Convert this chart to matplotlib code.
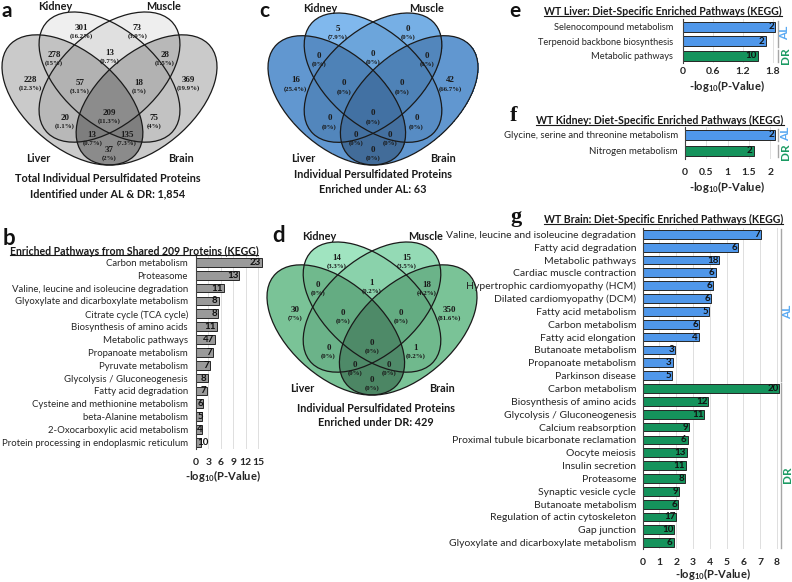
import numpy as np
import matplotlib
matplotlib.use("Agg")
import matplotlib.pyplot as plt
from matplotlib.patches import Ellipse
from matplotlib.colors import LinearSegmentedColormap
from matplotlib.lines import Line2D

W, H = 792, 582
SANS = ["Lato", "DejaVu Sans"]
SERIF = ["Liberation Serif", "DejaVu Serif"]
plt.rcParams["font.family"] = SANS
plt.rcParams["mathtext.default"] = "regular"

# ---------------- Venn data (regions of Liver / Kidney / Muscle / Brain) ----------------
venn_regions = ["L", "K", "M", "B", "LK", "KM", "MB", "LM", "KB", "LB",
                "LKM", "KMB", "LMB", "LKB", "LKMB"]
venn_a_counts = [228, 301, 73, 369, 278, 13, 28, 20, 75, 37, 57, 18, 13, 135, 209]
venn_c_counts = [16, 5, 0, 42, 0, 0, 0, 0, 0, 0, 0, 0, 0, 0, 0]
venn_d_counts = [30, 14, 15, 350, 0, 1, 18, 0, 1, 0, 0, 0, 0, 0, 0]
tissues = ["Liver", "Kidney", "Muscle", "Brain"]

# ---------------- bar panel data ----------------
b_labels = ["Carbon metabolism", "Proteasome", "Valine, leucine and isoleucine degradation",
            "Glyoxylate and dicarboxylate metabolism", "Citrate cycle (TCA cycle)",
            "Biosynthesis of amino acids", "Metabolic pathways", "Propanoate metabolism",
            "Pyruvate metabolism", "Glycolysis / Gluconeogenesis", "Fatty acid degradation",
            "Cysteine and methionine metabolism", "beta-Alanine metabolism",
            "2-Oxocarboxylic acid metabolism", "Protein processing in endoplasmic reticulum"]
b_values = [15.9, 10.5, 6.8, 5.5, 5.3, 5.0, 4.6, 4.2, 3.5, 2.8, 2.7, 1.8, 1.5, 1.45, 1.1]
b_counts = [23, 13, 11, 8, 8, 11, 47, 7, 7, 8, 7, 6, 5, 4, 10]

e_labels = ["Selenocompound metabolism", "Terpenoid backbone biosynthesis", "Metabolic pathways"]
e_values = [1.84, 1.65, 1.49]
e_counts = [2, 2, 10]
e_diet = ["AL", "AL", "DR"]

f_labels = ["Glycine, serine and threonine metabolism", "Nitrogen metabolism"]
f_values = [2.12, 1.61]
f_counts = [2, 2]
f_diet = ["AL", "DR"]

g_labels = ["Valine, leucine and isoleucine degradation", "Fatty acid degradation",
            "Metabolic pathways", "Cardiac muscle contraction",
            "Hypertrophic cardiomyopathy (HCM)", "Dilated cardiomyopathy (DCM)",
            "Fatty acid metabolism", "Carbon metabolism", "Fatty acid elongation",
            "Butanoate metabolism", "Propanoate metabolism", "Parkinson disease",
            "Carbon metabolism", "Biosynthesis of amino acids", "Glycolysis / Gluconeogenesis",
            "Calcium reabsorption", "Proximal tubule bicarbonate reclamation", "Oocyte meiosis",
            "Insulin secretion", "Proteasome", "Synaptic vesicle cycle", "Butanoate metabolism",
            "Regulation of actin cytoskeleton", "Gap junction",
            "Glyoxylate and dicarboxylate metabolism"]
g_values = [7.06, 5.67, 4.57, 4.35, 4.19, 4.06, 3.98, 3.38, 3.34, 1.95, 1.79, 1.75,
            8.15, 3.92, 3.68, 2.78, 2.68, 2.64, 2.58, 2.52, 2.19, 2.13, 2.0, 1.89, 1.85]
g_counts = [7, 6, 18, 6, 6, 6, 5, 6, 4, 3, 3, 5,
            20, 12, 11, 9, 6, 13, 11, 8, 9, 6, 17, 10, 6]
g_diet = ["AL"] * 12 + ["DR"] * 13

DIET_COLOR = {"AL": "#4f97ea", "DR": "#15935c"}
DIET_TEXT = {"AL": "#5aa9f2", "DR": "#1a9a62"}

fig = plt.figure(figsize=(W / 100, H / 100), dpi=100)


def px_axes(x0, y0, x1, y1):
    return fig.add_axes([x0 / W, 1 - y1 / H, (x1 - x0) / W, (y1 - y0) / H])


def ftext(x, y, s, **kw):
    return fig.text(x / W, 1 - y / H, s, **kw)


# ---------------- Venn helper ----------------
CENTERS = [(0.35, 0.47), (0.50, 0.57), (0.50, 0.57), (0.65, 0.47)]
ANGLES = [-45, -45, 45, 45]
WEIGHTS = [1.0, 0.25, 0.3, 1.0]
SEMI_A, SEMI_B = 0.35, 0.20
XL, YL = (0.065, 0.935), (0.185, 0.855)
LABEL_POS = {"L": (0.18, 0.54), "K": (0.355, 0.767), "M": (0.645, 0.767), "B": (0.82, 0.54),
             "LK": (0.275, 0.649), "KM": (0.5, 0.658), "MB": (0.725, 0.649),
             "LM": (0.32, 0.373), "KB": (0.68, 0.373), "LB": (0.5, 0.233),
             "LKM": (0.38, 0.527), "KMB": (0.62, 0.527), "LMB": (0.43, 0.30),
             "LKB": (0.57, 0.30), "LKMB": (0.5, 0.395)}
NAME_POS = [(0.21, 0.214), (0.28, 0.877), (0.72, 0.877), (0.79, 0.214)]


def venn(box, counts, anchors, pos_override=None):
    ax = px_axes(*box)
    xs = np.linspace(*XL, 700)
    ys = np.linspace(*YL, 540)
    X, Y = np.meshgrid(xs, ys)
    depth = np.zeros_like(X)
    cover = np.zeros(X.shape, bool)
    for (cx, cy), ang, w in zip(CENTERS, ANGLES, WEIGHTS):
        t = np.deg2rad(ang)
        dx, dy = X - cx, Y - cy
        u = dx * np.cos(t) + dy * np.sin(t)
        v = -dx * np.sin(t) + dy * np.cos(t)
        inside = (u / SEMI_A) ** 2 + (v / SEMI_B) ** 2 <= 1
        depth += w * inside
        cover |= inside
    dmax = sum(WEIGHTS)
    cmap = LinearSegmentedColormap.from_list("venn", [(d / dmax, c) for d, c in anchors], N=512)
    rgba = cmap(depth / dmax)
    rgba[~cover, 3] = 0
    ax.imshow(rgba, extent=(*XL, *YL), origin="lower", aspect="auto",
              interpolation="nearest", zorder=1)
    for (cx, cy), ang in zip(CENTERS, ANGLES):
        ax.add_patch(Ellipse((cx, cy), 2 * SEMI_A, 2 * SEMI_B, angle=ang, fill=False,
                             ec="#1a1a1a", lw=0.9, zorder=2, clip_on=False))
    ax.set_xlim(*XL)
    ax.set_ylim(*YL)
    ax.axis("off")
    total = sum(counts)
    pos = dict(LABEL_POS)
    if pos_override:
        pos.update(pos_override)
    for key, n in zip(venn_regions, counts):
        ux, uy = pos[key]
        pct = round(n / total * 100, 1)
        ax.text(ux, uy + 0.018, str(n), ha="center", va="center", fontsize=6.4,
                fontweight="bold", family=SERIF, color="#1a1a1a", zorder=3)
        ax.text(ux, uy - 0.019, f"({pct:g}%)", ha="center", va="center", fontsize=4.9,
                fontweight="bold", family=SERIF, color="#1a1a1a", zorder=3)
    for name, (ux, uy) in zip(tissues, NAME_POS):
        ax.text(ux, uy, name, ha="center", va="center", fontsize=7.8, fontweight="bold",
                color="#1a1a1a", clip_on=False)
    return total


gray = [(0, "#ffffff"), (0.25, "#efefef"), (0.3, "#eeeeee"), (0.55, "#e0e0e0"),
        (1.0, "#cacaca"), (1.25, "#c2c2c2"), (1.3, "#b9b9b9"), (1.55, "#b3b3b3"),
        (2.0, "#8c8c8c"), (2.25, "#808080"), (2.3, "#7e7e7e"), (2.55, "#8c8c8c")]
blue = [(0, "#ffffff"), (0.25, "#80b8ed"), (0.3, "#76afe5"), (0.55, "#6ca5db"),
        (1.0, "#6197d0"), (1.25, "#578cc4"), (1.3, "#5387bd"), (1.55, "#4f83b8"),
        (2.0, "#426c99"), (2.25, "#4470a0"), (2.3, "#4470a0"), (2.55, "#4271a3")]
green = [(0, "#ffffff"), (0.25, "#a0e4c0"), (0.3, "#94dab5"), (0.55, "#8ad2ab"),
         (1.0, "#7ac397"), (1.25, "#70b98d"), (1.3, "#6cb48a"), (1.55, "#65ad83"),
         (2.0, "#4c8664"), (2.25, "#4f8a69"), (2.3, "#4f8a69"), (2.55, "#4e8a68")]

tot_a = venn((2, 12, 217, 165), venn_a_counts, gray,
             {"K": (0.387, 0.767), "M": (0.613, 0.767)})
tot_c = venn((268, 13, 478, 165), venn_c_counts, blue)
tot_d = venn((267, 242, 477, 395), venn_d_counts, green)

vt = dict(ha="center", va="center", fontsize=7.8, fontweight="bold", color="#1a1a1a")
ftext(107.5, 178, "Total Individual Persulfidated Proteins", **vt)
ftext(107.5, 194, f"Identified under AL & DR: {tot_a:,}", **vt)
ftext(372.5, 175, "Individual Persulfidated Proteins", **vt)
ftext(372.5, 190, f"Enriched under AL: {tot_c}", **vt)
ftext(376, 408, "Individual Persulfidated Proteins", **vt)
ftext(376, 423, f"Enriched under DR: {tot_d}", **vt)


# ---------------- bar helper ----------------
def bar_panel(box, labels, values, counts, colors, xmax, ticks, ticklabels,
              ypad, xpad, fs, diet=None):
    x0, y0, x1, y1 = box
    ax = px_axes(x0, y0, x1, y1)
    y = np.arange(len(labels))
    ax.barh(y, values, height=0.68, color=colors, edgecolor="#262626", linewidth=0.7, zorder=2)
    ax.set_xlim(0, xmax)
    ax.set_ylim(len(labels) - 0.5, -0.5)
    ax.set_yticks(y, labels, fontsize=fs, color="#262626")
    ax.set_xticks(ticks, ticklabels, fontsize=7.5, fontweight="bold", color="#262626")
    ax.tick_params(axis="y", length=0, pad=ypad)
    ax.tick_params(axis="x", length=0, pad=xpad)
    ax.grid(axis="x", color="#d9d9d9", lw=0.6, zorder=0)
    ax.set_axisbelow(True)
    for s in ["top", "right", "bottom"]:
        ax.spines[s].set_visible(False)
    ax.spines["left"].set_color("#404040")
    ax.spines["left"].set_linewidth(0.8)
    ppu = (x1 - x0) / xmax
    for yi, v, c in zip(y, values, counts):
        s = str(c)
        right = max(v - 1.0 / ppu, (len(s) * 5.4 + 1.5) / ppu)
        ax.text(right, yi, s, ha="right", va="center", fontsize=7, fontweight="bold",
                color="#111111", zorder=3)
    if diet is not None:
        for grp in ["AL", "DR"]:
            idx = [i for i, d in enumerate(diet) if d == grp]
            ax.plot([1.0 + 1 / (x1 - x0)] * 2, [idx[0] - 0.4, idx[-1] + 0.4], color="#a6a6a6",
                    lw=1.0, transform=ax.get_yaxis_transform(), clip_on=False)
    return ax


xlab = r"-log$_{10}$(P-Value)"
xl = dict(ha="center", va="center", fontsize=8, fontweight="bold", color="#262626")

bar_panel((196, 255.9, 262.9, 448.8), b_labels, b_values, b_counts, "#9a9a9a", 16.2,
          [0, 3, 6, 9, 12, 15], ["0", "3", "6", "9", "12", "15"], 5.8, 6.5, 6.9)
ftext(223, 476, xlab, **xl)

bar_panel((683, 19.4, 777, 63.3), e_labels, e_values, e_counts,
          [DIET_COLOR[d] for d in e_diet], 1.88, [0, 0.6, 1.2, 1.8],
          ["0", "0.6", "1.2", "1.8"], 7.2, 3.0, 6.7, e_diet)
ftext(727, 86, xlab, **xl)

bar_panel((685, 127, 777, 159), f_labels, f_values, f_counts,
          [DIET_COLOR[d] for d in f_diet], 2.16, [0, 0.5, 1, 1.5, 2],
          ["0", "0.5", "1", "1.5", "2"], 5.0, 6.3, 6.9, f_diet)
ftext(727, 187, xlab, **xl)

bar_panel((642.7, 227.9, 780.2, 549.1), g_labels, g_values, g_counts,
          [DIET_COLOR[d] for d in g_diet], 8.2, list(range(9)),
          [str(i) for i in range(9)], 4.8, 6.7, 7.5, g_diet)
ftext(712.5, 574, xlab, **xl)

# diet group labels
gl = dict(ha="center", va="center", fontsize=8.5, fontweight="bold", rotation=90)
for (x, y, d) in [(785, 33, "AL"), (785, 56, "DR"), (786, 134, "AL"), (786, 152, "DR"),
                  (788, 312, "AL"), (788, 475, "DR")]:
    ftext(x, y, d, color=DIET_TEXT[d], **gl)

# titles (underlined)
tt = dict(ha="center", va="center", fontsize=7.6, fontweight="bold", color="#1a1a1a")
titles = [
    ftext(134, 251, "Enriched Pathways from Shared 209 Proteins (KEGG)", **tt),
    ftext(663, 11.7, "WT Liver: Diet-Specific Enriched Pathways (KEGG)", **tt),
    ftext(660, 120.7, "WT Kidney: Diet-Specific Enriched Pathways (KEGG)", **tt),
    ftext(663.5, 219.3, "WT Brain: Diet-Specific Enriched Pathways (KEGG)", **tt),
]

# panel letters
pl = dict(ha="left", va="baseline", fontweight="bold", color="#111111")
for (x, y, s, fam, fs) in [(1, 17, "a", SANS, 15), (3, 245, "b", SANS, 16),
                           (259, 17, "c", SANS, 15), (272, 241.7, "d", SANS, 16),
                           (509, 17, "e", SANS, 15), (510, 120.7, "f", SERIF, 16),
                           (510, 221.7, "g", SERIF, 16)]:
    ftext(x, y, s, family=fam, fontsize=fs, **pl)

fig.canvas.draw()
renderer = fig.canvas.get_renderer()
for t in titles:
    bb = t.get_window_extent(renderer)
    yy = (bb.y0 + 1.2) / H
    fig.add_artist(Line2D([bb.x0 / W, bb.x1 / W], [yy, yy], transform=fig.transFigure,
                          color="#1a1a1a", lw=0.8))

fig.savefig("out.png", dpi=100)
